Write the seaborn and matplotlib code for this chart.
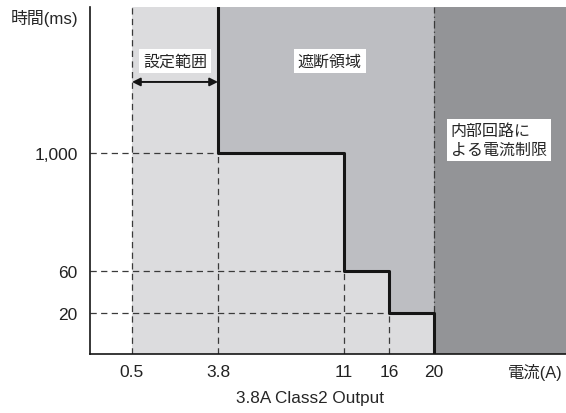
import numpy as np
import pandas as pd
import seaborn as sns
import matplotlib.pyplot as plt

# Data
trip_current = [3.8, 11, 16, 20]      # A, corner currents of the curve
trip_time = [1000, 60, 20]             # ms, level between successive corners
set_range = [0.5, 3.8]                 # A, adjustable range
x_ticks = [0.5, 3.8, 11, 16, 20]
x_tick_labels = ['0.5', '3.8', '11', '16', '20']
y_ticks = [20, 60, 1000]
y_tick_labels = ['20', '60', '1,000']

# Schematic (non-linear) axes: value -> drawing position
X_VAL = [0, 0.5, 3.8, 11, 16, 20, 30]
X_POS = [0, 42, 128, 254, 299, 343.5, 476]
Y_VAL = [0, 20, 60, 1000, 5000]
Y_POS = [0, 41, 83, 201, 347]
X_MAX, Y_MAX = 30, 5000

JP = ['Liberation Sans', 'Noto Sans CJK JP']
LIGHT, MID, DARK = '#dcdcde', '#bdbec2', '#939497'
DASH = '#3a3a3a'

sns.set_theme(style='white')
plt.rcParams['font.family'] = JP

fig = plt.figure(figsize=(5.66, 4.14), dpi=100)
ax = fig.add_axes([90 / 566, 59 / 414, 476 / 566, 347 / 414])

ax.set_xscale('function', functions=(lambda v: np.interp(v, X_VAL, X_POS),
                                     lambda p: np.interp(p, X_POS, X_VAL)))
ax.set_yscale('function', functions=(lambda v: np.interp(v, Y_VAL, Y_POS),
                                     lambda p: np.interp(p, Y_POS, Y_VAL)))
ax.set_xlim(0, X_MAX)
ax.set_ylim(0, Y_MAX)

# step path built from the table
path_x, path_y = [trip_current[0]], [Y_MAX]
for i, t in enumerate(trip_time):
    path_x += [trip_current[i], trip_current[i + 1]]
    path_y += [t, t]
path_x.append(trip_current[-1])
path_y.append(0)
curve = pd.DataFrame({'current': path_x, 'time': path_y})

# shaded regions
ax.axvspan(set_range[0], trip_current[-1], color=LIGHT, lw=0, zorder=0)
ax.fill_between(curve['current'], curve['time'], Y_MAX, color=MID, lw=0, zorder=1)
ax.axvspan(trip_current[-1], X_MAX, color=DARK, lw=0, zorder=1)

# dashed guide lines
dash_kw = dict(color=DASH, lw=0.9, dashes=(5, 3.5), zorder=2)
ax.plot([set_range[0], set_range[0]], [0, Y_MAX], **dash_kw)
for i, t in enumerate(trip_time):
    ax.plot([0, trip_current[i]], [t, t], **dash_kw)
    ax.plot([trip_current[i], trip_current[i]], [0, t], **dash_kw)
ax.plot([trip_current[-1]] * 2, [trip_time[-1], Y_MAX], color=DASH, lw=0.9,
        dashes=(6, 2.5, 1, 2.5), zorder=2)

# trip curve
sns.lineplot(data=curve, x='current', y='time', sort=False, estimator=None,
             color='#151515', lw=2.2, ax=ax, zorder=4)

# range arrow
ax.annotate('', xy=(set_range[1], 0.784), xytext=(set_range[0], 0.784),
            xycoords=('data', 'axes fraction'), textcoords=('data', 'axes fraction'),
            arrowprops=dict(arrowstyle='<|-|>', color='#151515', lw=1.4,
                            mutation_scale=12, shrinkA=0, shrinkB=0), zorder=5)

box = dict(facecolor='white', edgecolor='none', pad=3)
ax.text(0.1786, 0.844, '設定範囲', transform=ax.transAxes, ha='center', va='center',
        fontsize=11.5, bbox=box, zorder=6)
ax.text(0.504, 0.844, '遮断領域', transform=ax.transAxes, ha='center', va='center',
        fontsize=11.5, bbox=box, zorder=6)
ax.text(0.758, 0.617, '内部回路に\nよる電流制限', transform=ax.transAxes, ha='left',
        va='center', fontsize=11.5, linespacing=1.25, bbox=box, zorder=6)

# axes decoration
ax.set_xticks(x_ticks, x_tick_labels)
ax.set_yticks(y_ticks, y_tick_labels)
ax.tick_params(length=0, labelsize=12.5, colors='#222222')
ax.tick_params(axis='x', pad=7)
ax.tick_params(axis='y', pad=9)
ax.set_xlabel('')
ax.set_ylabel('')
sns.despine(ax=ax)
for side in ('left', 'bottom'):
    ax.spines[side].set_color('#151515')
    ax.spines[side].set_linewidth(1.2)

fig.text(0.0795, 0.9565, '時間(ms)', ha='center', va='center', fontsize=12.2)
fig.text(535 / 566, 41 / 414, '電流(A)', ha='center', va='center', fontsize=11.8)
fig.text(310 / 566, 15 / 414, '3.8A Class2 Output', ha='center', va='center',
         fontsize=12.3)

fig.savefig('out.png', dpi=100)
